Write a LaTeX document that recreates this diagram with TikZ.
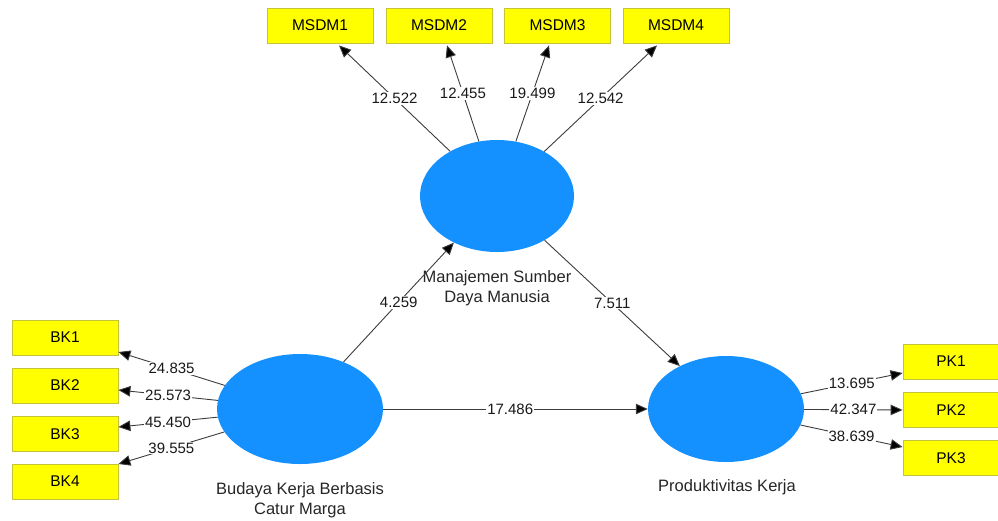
\documentclass[tikz,border=0pt]{standalone}
\usepackage{fontspec}
\setmainfont{Liberation Sans}
\usetikzlibrary{shapes.geometric,arrows.meta,positioning,calc}
\definecolor{lvblue}{RGB}{21,145,255}
\definecolor{indyel}{RGB}{255,255,0}
\definecolor{indbrd}{RGB}{196,196,60}
\definecolor{linegray}{RGB}{60,60,60}
\tikzset{
  lv/.style={ellipse, fill=lvblue, inner sep=0pt},
  ind/.style={rectangle, fill=indyel, draw=indbrd, line width=0.8pt, minimum width=106pt, minimum height=35pt, inner sep=0pt, font=\fontsize{15.5}{17}\selectfont},
  conn/.style={draw=linegray, line width=0.9pt, -{Triangle[length=12pt,width=10.5pt,fill=black]}},
  val/.style={fill=white, inner sep=1pt, font=\fontsize{15}{17}\selectfont, text=black!90},
  lvname/.style={align=center, font=\fontsize{16.5}{20}\selectfont, text=black!85}
}
\begin{document}
\begin{tikzpicture}[x=1pt,y=-1pt]
\useasboundingbox (0,0) rectangle (998,520);
% latent variables
\node[lv, minimum width=154pt, minimum height=112pt] (m) at (497,196) {};
\node[lv, minimum width=166pt, minimum height=110pt] (bk) at (300,409) {};
\node[lv, minimum width=156pt, minimum height=106pt] (pk) at (726,409) {};
% names
\node[lvname] (mname) at (497,288) {Manajemen Sumber\\Daya Manusia};
\node[lvname] (bkname) at (300,500) {Budaya Kerja Berbasis\\Catur Marga};
\node[lvname] (pkname) at (727,487) {Produktivitas Kerja};
% indicators
\node[ind] (msdm1) at (320,25.5) {MSDM1};
\node[ind] (msdm2) at (439,25.5) {MSDM2};
\node[ind] (msdm3) at (557.5,25.5) {MSDM3};
\node[ind] (msdm4) at (676,25.5) {MSDM4};
\node[ind] (bk1) at (65,337.5) {BK1};
\node[ind] (bk2) at (65,385.5) {BK2};
\node[ind] (bk3) at (65,434) {BK3};
\node[ind] (bk4) at (65,481.5) {BK4};
\node[ind, minimum width=96pt] (pk1) at (951,361.5) {PK1};
\node[ind, minimum width=96pt] (pk2) at (951,410) {PK2};
\node[ind, minimum width=96pt] (pk3) at (951,458) {PK3};
% tip coordinates
\coordinate (t-msdm1) at ([xshift=19pt,yshift=-2pt]msdm1.south);
\coordinate (t-msdm2) at ([xshift=8pt,yshift=-2pt]msdm2.south);
\coordinate (t-msdm3) at ([xshift=-8.5pt,yshift=-2pt]msdm3.south);
\coordinate (t-msdm4) at ([xshift=-19pt,yshift=-2pt]msdm4.south);
\coordinate (t-bk1) at ([yshift=-14.5pt]bk1.east);
\coordinate (t-bk2) at ([yshift=-4.5pt]bk2.east);
\coordinate (t-bk3) at ([yshift=7pt]bk3.east);
\coordinate (t-bk4) at ([yshift=17.5pt]bk4.east);
\coordinate (t-pk1) at ([yshift=-11.5pt]pk1.west);
\coordinate (t-pk2) at ([yshift=0pt]pk2.west);
\coordinate (t-pk3) at ([yshift=11pt]pk3.west);
% outer loadings
\draw[conn] (m) -- (t-msdm1) node[val, pos=0.5] {12.522};
\draw[conn] (m) -- (t-msdm2) node[val, pos=0.5] {12.455};
\draw[conn] (m) -- (t-msdm3) node[val, pos=0.5] {19.499};
\draw[conn] (m) -- (t-msdm4) node[val, pos=0.5] {12.542};
\draw[conn] (bk) -- (t-bk1) node[val, pos=0.5] {24.835};
\draw[conn] (bk) -- (t-bk2) node[val, pos=0.5] {25.573};
\draw[conn] (bk) -- (t-bk3) node[val, pos=0.5] {45.450};
\draw[conn] (bk) -- (t-bk4) node[val, pos=0.5] {39.555};
\draw[conn] (pk) -- (t-pk1) node[val, pos=0.5] {13.695};
\draw[conn] (pk) -- (t-pk2) node[val, pos=0.5] {42.347};
\draw[conn] (pk) -- (t-pk3) node[val, pos=0.5] {38.639};
% inner paths
\draw[conn] (bk) -- (m) node[val, pos=0.5] {4.259};
\draw[conn] (m) -- (pk) node[val, pos=0.5] {7.511};
\draw[conn] (bk) -- (pk) node[val, pos=0.48] {17.486};
\end{tikzpicture}
\end{document}
